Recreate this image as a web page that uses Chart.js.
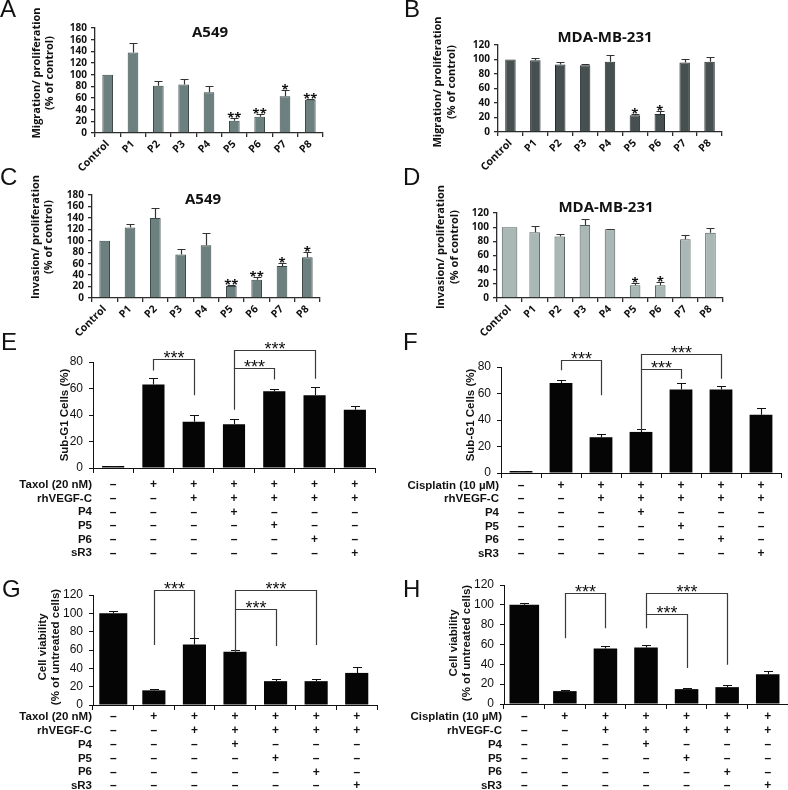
<!DOCTYPE html>
<html><head><meta charset="utf-8">
<script src="https://cdn.jsdelivr.net/npm/chart.js@4.4.1/dist/chart.umd.min.js"></script>
<style>
html,body{margin:0;padding:0;background:#fff;width:788px;height:790px;overflow:hidden;position:relative}
canvas{position:absolute}
</style></head><body>
<canvas id="cA"></canvas><canvas id="cB"></canvas><canvas id="cC"></canvas><canvas id="cD"></canvas>
<canvas id="cE"></canvas><canvas id="cF"></canvas><canvas id="cG"></canvas><canvas id="cH"></canvas>
<script>
// ---------------- DATA ----------------
const peptideCats = ['Control','P1','P2','P3','P4','P5','P6','P7','P8'];
const ticks0to180 = [0,20,40,60,80,100,120,140,160,180];
const ticks0to120 = [0,20,40,60,80,100,120];
const ticks0to80  = [0,20,40,60,80];

const migA549     = [100,138,81,83,70,21,28,63,57];
const migA549Err  = [0,16,8,9,11,4,5,10,2];
const migA549Sig  = ['','','','','','**','**','*','**'];

const migMDA      = [100,99,93,92,97,23,25,96,97];
const migMDAErr   = [0,3,3,2,9,2,4,5,7];
const migMDASig   = ['','','','','','*','*','',''];

const invA549     = [100,123,140,76,92,21,32,56,71];
const invA549Err  = [0,6,18,9,22,2,4,6,9];
const invA549Sig  = ['','','','','','**','**','*','*'];

const invMDA      = [100,93,87,103,97,18,18,83,92];
const invMDAErr   = [0,9,3,8,1,3,4,6,7];
const invMDASig   = ['','','','','','*','*','',''];

const conditions = ['untreated','drug','drug+VEGFC','drug+VEGFC+P4','drug+VEGFC+P5','drug+VEGFC+P6','drug+VEGFC+sR3'];
const rowDrug   = ['–','+','+','+','+','+','+'];
const rowVEGFC  = ['–','–','+','+','+','+','+'];
const rowP4     = ['–','–','–','+','–','–','–'];
const rowP5     = ['–','–','–','–','+','–','–'];
const rowP6     = ['–','–','–','–','–','+','–'];
const rowSR3    = ['–','–','–','–','–','–','+'];

const subG1Taxol      = [1.5,63,35,33,58,55,44];
const subG1TaxolErr   = [0.3,5,5,4,2,6,3];
const subG1Cis        = [1.5,68,27,31,63,63,44];
const subG1CisErr     = [0.3,2,2.5,2,5,2.5,5];
const viabTaxol       = [100,16,66,58,26,26,35];
const viabTaxolErr    = [3,2,7,1.5,2.5,2.5,7];
const viabCis         = [100,13,56,57,15,17,30];
const viabCisErr      = [1.5,1.5,2,2.5,1.5,2,3];

// significance brackets: [fromIndex, toIndex, topValue, leftLegEnd, rightLegEnd, label]
const sigE = [[1,2,82.5,73.5,55,'***'],[3,5,89.3,44,67.4,'***'],[3,4,75.5,75.5,66.7,'***']];
const sigF = [[1,2,85,77.5,58.7,'***'],[3,5,89.5,32,71.2,'***'],[3,4,78.7,78.7,71.2,'***']];
const sigG = [[1,2,125.5,65.5,72.7,'***'],[3,5,125.5,58.5,65.5,'***'],[3,4,104.4,104.4,64.4,'***']];
const sigH = [[1,2,112.3,66.4,76.4,'***'],[3,5,112.3,76.4,39.6,'***'],[3,4,90.8,90.8,36.2,'***']];

// ---------------- RENDERING ----------------
const OS = '"Open Sans", "DejaVu Sans", sans-serif';
const LS = '"Liberation Sans", Arial, sans-serif';

function deco(p){
  return {
    id:'deco_'+p.id,
    afterDatasetsDraw(chart){
      const ctx = chart.ctx, ys = chart.scales.y;
      ctx.save();
      ctx.strokeStyle = p.errColor; ctx.lineWidth = p.errW;
      chart.data.datasets.forEach((ds,di)=>{
        const meta = chart.getDatasetMeta(di);
        meta.data.forEach((el,i)=>{
          const v = ds.data[i]; if (v==null) return;
          const e = p.err[i]; if (!e) return;
          const yt = Math.round(ys.getPixelForValue(v+e))+0.5;
          const xc = Math.round(el.x)+0.5;
          ctx.beginPath();
          ctx.moveTo(xc, el.y); ctx.lineTo(xc, yt);
          ctx.moveTo(xc-p.cap, yt); ctx.lineTo(xc+p.cap, yt);
          ctx.stroke();
        });
      });
      ctx.restore();
    },
    afterDraw(chart){
      const ctx = chart.ctx, xs = chart.scales.x, ys = chart.scales.y;
      const ox = p.x, oy = p.y;
      ctx.save();
      ctx.fillStyle = '#111';
      ctx.font = '24px '+LS; ctx.textAlign='left'; ctx.textBaseline='alphabetic';
      ctx.fillText(p.letter, p.letterPos[0]-ox, p.letterPos[1]-oy);
      if (p.title){
        ctx.font = 'bold 15px '+OS; ctx.textAlign='center'; ctx.textBaseline='middle';
        ctx.fillText(p.title, p.titlePos[0]-ox, p.titlePos[1]-oy);
      }
      ctx.font = p.ylabFont; ctx.textAlign='center'; ctx.textBaseline='middle';
      p.ylab.forEach((t,k)=>{
        ctx.save(); ctx.translate(p.ylabX[k]-ox, p.ylabY-oy); ctx.rotate(-Math.PI/2);
        ctx.fillText(t,0,0); ctx.restore();
      });
      if (p.sig){
        ctx.font = 'bold 13px '+OS; ctx.textAlign='center'; ctx.textBaseline='alphabetic';
        p.sig.forEach((s,i)=>{
          if(!s) return;
          const yy = ys.getPixelForValue(p.values[i]+p.err[i]);
          ctx.fillText(s, xs.getPixelForValue(i), yy+4);
        });
      }
      if (p.brackets){
        ctx.strokeStyle = '#3a3a3a'; ctx.lineWidth = 1.2;
        ctx.font = '18px '+LS; ctx.textAlign='center'; ctx.textBaseline='alphabetic';
        p.brackets.forEach(b=>{
          const x1 = Math.round(xs.getPixelForValue(b[0]))+0.5, x2 = Math.round(xs.getPixelForValue(b[1]))+0.5;
          const yt = Math.round(ys.getPixelForValue(b[2]))+0.5;
          ctx.beginPath();
          ctx.moveTo(x1, ys.getPixelForValue(b[3])); ctx.lineTo(x1, yt);
          ctx.lineTo(x2, yt); ctx.lineTo(x2, ys.getPixelForValue(b[4]));
          ctx.stroke();
          ctx.fillText(b[5], (x1+x2)/2, yt+4);
        });
      }
      if (p.rows){
        p.rows.forEach((r,k)=>{
          const yy = p.tableY + k*p.rowGap - oy;
          ctx.font = 'bold 11.5px '+LS; ctx.textAlign='right'; ctx.textBaseline='middle';
          ctx.fillText(r[0], p.tableX-ox, yy);
          ctx.font = 'bold 12px '+LS; ctx.textAlign='center';
          r[1].forEach((m,i)=> ctx.fillText(m, xs.getPixelForValue(i), yy));
        });
      }
      ctx.restore();
    }
  };
}

function makePanel(p){
  const cv = document.getElementById(p.id);
  cv.width = p.w; cv.height = p.h;
  cv.style.left = p.x+'px'; cv.style.top = p.y+'px';
  const L = p.area[0]-p.x, R = p.area[1]-p.x, T = p.area[2]-p.y, B = p.area[3]-p.y;
  const ad = p.kind==='ad';
  const base = {backgroundColor:p.fill, borderColor:p.edge, borderWidth:p.bw, categoryPercentage:1, grouped:false};
  const datasets = [];
  if (p.firstPct){
    datasets.push(Object.assign({}, base, {data:p.values.map((v,i)=>i===0?v:null), barPercentage:p.firstPct}));
    datasets.push(Object.assign({}, base, {data:p.values.map((v,i)=>i===0?null:v), barPercentage:p.barPct}));
  } else {
    datasets.push(Object.assign({}, base, {data:p.values, barPercentage:p.barPct}));
  }
  new Chart(cv, {
    type:'bar',
    data:{labels:p.labels, datasets},
    options:{
      responsive:false, animation:false, events:[],
      layout:{padding:{left:0, top:T, right:p.w-R, bottom:0}},
      plugins:{legend:{display:false}, tooltip:{enabled:false}, title:{display:false}},
      scales:{
        x:{
          type:'category', offset:true,
          grid:{display:true, drawOnChartArea:false, drawTicks:true, tickLength:p.xTick, color:p.axis, lineWidth:p.axisW, offset:true},
          border:{display:true, color:p.axis, width:p.axisW},
          ticks: ad ? {display:true, autoSkip:false, maxRotation:45, minRotation:45, padding:1, color:'#111',
                       font:{family:OS, weight:'bold', size:10.5}} : {display:false},
          afterFit(s){ s.height = p.h - B; }
        },
        y:{
          min:0, max:p.ticks[p.ticks.length-1],
          afterBuildTicks(s){ s.ticks = p.ticks.map(v=>({value:v})); },
          grid:{display:true, drawOnChartArea:false, drawTicks:true, tickLength:4, color:p.axis, lineWidth:p.axisW},
          border:{display:true, color:p.axis, width:p.axisW},
          ticks:{padding:p.yPad, color:'#111', font:p.yFont, autoSkip:false},
          afterFit(s){ s.width = L; }
        }
      }
    },
    plugins:[deco(p)]
  });
}

const adCommon = {kind:'ad', w:394, axis:'#2b2b2b', axisW:1.3, xTick:4, yPad:4,
  yFont:{family:OS, weight:'bold', size:10}, ylabFont:'bold 11px '+OS,
  errColor:'#333', errW:1.2, cap:4, bw:1, barPct:0.42, labels:peptideCats};
const ehCommon = {kind:'eh', w:394, axis:'#111', axisW:1, xTick:5, yPad:6,
  yFont:{family:LS, size:12}, ylabFont:'bold 11.5px '+LS,
  errColor:'#111', errW:1.1, cap:4.5, bw:0, fill:'#050505', edge:'#050505', labels:conditions, rowGap:13.65};

makePanel(Object.assign({}, adCommon, {id:'cA', x:0, y:0, h:180, area:[95,323,28,133],
  values:migA549, err:migA549Err, sig:migA549Sig, ticks:ticks0to180, fill:'#6d8080', edge:'#3b4848',
  letter:'A', letterPos:[0,17], title:'A549', titlePos:[210,33],
  ylab:['Migration/ proliferation','(% of control)'], ylabX:[37,50], ylabY:73}));
makePanel(Object.assign({}, adCommon, {id:'cB', x:394, y:0, h:180, area:[498,722,45,132],
  values:migMDA, err:migMDAErr, sig:migMDASig, ticks:ticks0to120, fill:'#465050', edge:'#262c2c',
  letter:'B', letterPos:[404,17], title:'MDA-MB-231', titlePos:[605,38],
  ylab:['Migration/ proliferation','(% of control)'], ylabX:[438,452], ylabY:82}));
makePanel(Object.assign({}, adCommon, {id:'cC', x:0, y:160, h:180, area:[92,320,195,298],
  values:invA549, err:invA549Err, sig:invA549Sig, ticks:ticks0to180, fill:'#6d8080', edge:'#3b4848',
  letter:'C', letterPos:[0,185], title:'A549', titlePos:[203,200],
  ylab:['Invasion/ proliferation','(% of control)'], ylabX:[36,49], ylabY:237}));
makePanel(Object.assign({}, adCommon, {id:'cD', x:394, y:160, h:180, area:[497,723,213,298],
  values:invMDA, err:invMDAErr, sig:invMDASig, ticks:ticks0to120, fill:'#a9b8b5', edge:'#4f5b59', firstPct:0.62,
  letter:'D', letterPos:[403,185], title:'MDA-MB-231', titlePos:[606,208],
  ylab:['Invasion/ proliferation','(% of control)'], ylabX:[441,455], ylabY:247}));

makePanel(Object.assign({}, ehCommon, {id:'cE', x:0, y:328, h:236, area:[93,375,362,468],
  values:subG1Taxol, err:subG1TaxolErr, ticks:ticks0to80, barPct:0.55, brackets:sigE,
  letter:'E', letterPos:[1,350], ylab:['Sub-G1 Cells (%)'], ylabX:[65], ylabY:415,
  rows:[['Taxol (20 nM)',rowDrug],['rhVEGF-C',rowVEGFC],['P4',rowP4],['P5',rowP5],['P6',rowP6],['sR3',rowSR3]],
  tableY:485, tableX:92}));
makePanel(Object.assign({}, ehCommon, {id:'cF', x:394, y:328, h:236, area:[501,781,367,473],
  values:subG1Cis, err:subG1CisErr, ticks:ticks0to80, barPct:0.57, brackets:sigF,
  letter:'F', letterPos:[403,350], ylab:['Sub-G1 Cells (%)'], ylabX:[471], ylabY:415,
  rows:[['Cisplatin (10 µM)',rowDrug],['rhVEGF-C',rowVEGFC],['P4',rowP4],['P5',rowP5],['P6',rowP6],['sR3',rowSR3]],
  tableY:485.5, tableX:499}));
makePanel(Object.assign({}, ehCommon, {id:'cG', x:0, y:566, h:224, area:[93,377,595,705],
  values:viabTaxol, err:viabTaxolErr, ticks:ticks0to120, barPct:0.57, firstPct:0.69, brackets:sigG,
  letter:'G', letterPos:[2,597], ylab:['Cell viability','(% of untreated cells)'], ylabX:[43,56], ylabY:647,
  rows:[['Taxol (20 nM)',rowDrug],['rhVEGF-C',rowVEGFC],['P4',rowP4],['P5',rowP5],['P6',rowP6],['sR3',rowSR3]],
  tableY:717, tableX:92, rowGap:13.8}));
makePanel(Object.assign({}, ehCommon, {id:'cH', x:394, y:566, h:224, area:[504,788,585,704],
  values:viabCis, err:viabCisErr, ticks:ticks0to120, barPct:0.58, firstPct:0.73, brackets:sigH,
  letter:'H', letterPos:[403,597], ylab:['Cell viability','(% of untreated cells)'], ylabX:[454,467], ylabY:643,
  rows:[['Cisplatin (10 µM)',rowDrug],['rhVEGF-C',rowVEGFC],['P4',rowP4],['P5',rowP5],['P6',rowP6],['sR3',rowSR3]],
  tableY:717, tableX:502, rowGap:13.8}));
</script>
</body></html>
